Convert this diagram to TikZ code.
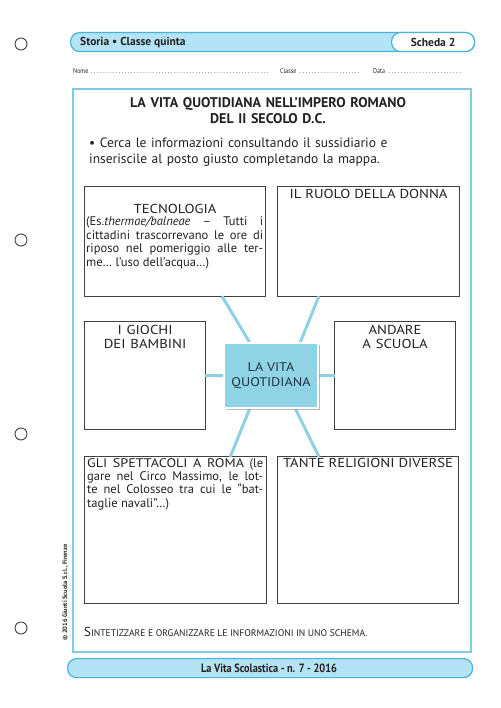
\documentclass[tikz,border=0pt]{standalone}
\usepackage{fontspec}
\setmainfont{PT Sans}
\newfontfamily\condfont[FakeStretch=0.86]{PT Sans}
\newcommand{\widecaps}[1]{\scalebox{1.13}[1]{#1}}
\usetikzlibrary{positioning,calc,shadows}
\definecolor{SkyFill}{RGB}{180,227,246}
\definecolor{SkyLine}{RGB}{72,178,216}
\definecolor{FrameBlue}{RGB}{128,202,226}
\definecolor{SpokeBlue}{RGB}{142,209,227}
\definecolor{CoreBlue}{RGB}{143,211,229}
\definecolor{InkGrey}{RGB}{64,64,64}
\definecolor{TextDark}{RGB}{34,34,34}
\definecolor{CoreText}{RGB}{28,52,66}
\tikzset{
  hole/.style={circle,draw=InkGrey,line width=.9pt,minimum size=12pt,inner sep=0pt},
  bar/.style={draw=SkyLine,line width=1.2pt,fill=SkyFill,rounded corners=9pt,anchor=north west,inner sep=0pt},
  sheet/.style={draw=FrameBlue,line width=1.6pt,anchor=north west,inner sep=0pt},
  mapbox/.style={draw=InkGrey,line width=1.1pt,fill=white,anchor=north west,inner sep=0pt},
  spoke/.style={draw=SpokeBlue,line width=3pt,shorten >=-3pt,shorten <=-1pt},
  core/.style={fill=CoreBlue,draw=white,line width=2pt,align=center,text=CoreText,
    font=\fontsize{12.5}{15}\selectfont,minimum width=94pt,minimum height=65pt,inner sep=0pt,
    drop shadow={shadow xshift=1.5pt,shadow yshift=-1.5pt,fill=black!45,opacity=.6}},
  headfont/.style={font=\bfseries\fontsize{11.5}{13}\selectfont,text=TextDark},
  nameline/.style={anchor=base west,inner sep=0pt,font=\condfont\fontsize{7}{8}\selectfont,text=TextDark},
  boxhead/.style={anchor=base,inner sep=0pt,align=center,text=TextDark,font=\fontsize{13}{14.6}\selectfont},
  boxbody/.style={anchor=base west,inner sep=0pt,align=justify,text=TextDark,font=\fontsize{12.5}{13.4}\selectfont}
}
\begin{document}
\begin{tikzpicture}[x=1pt,y=-1pt]
  \useasboundingbox (0,0) rectangle (500,708);
  % punch holes
  \foreach \y [count=\i] in {44,240,434,628}
    \node[hole] (hole\i) at (21,\y) {};
  % header
  \node[bar,minimum width=404pt,minimum height=19pt] (header) at (70,32) {};
  \node[headfont,anchor=base west,inner sep=0pt] (subject) at (80,46) {Storia • Classe quinta};
  \node[bar,headfont,fill=white,minimum width=83pt,minimum height=19pt,anchor=north east] (scheda) at (header.north east) {Scheda 2};
  \node[nameline] (nome) at (73,74) {Nome \makebox[179pt]{\dotfill}};
  \node[nameline] (classe) at (280,74) {Classe \makebox[63pt]{\dotfill}};
  \node[nameline] (data) at (373,74) {Data \makebox[76pt]{\dotfill}};
  % sheet
  \node[sheet,minimum width=398pt,minimum height=563pt] (page) at (72,88) {};
  \node[anchor=base,inner sep=0pt,text width=340pt,align=center,text=TextDark,font=\bfseries\fontsize{14}{16}\selectfont] (title) at (268,108) {LA VITA QUOTIDIANA NELL’IMPERO ROMANO\\DEL II SECOLO D.C.};
  \node[anchor=base west,inner sep=0pt,text width=370pt,align=left,text=TextDark,font=\fontsize{13.5}{16}\selectfont] (task) at (89,148) {• Cerca le informazioni consultando il sussidiario e\\inseriscile al posto giusto completando la mappa.};
  % map boxes
  \node[mapbox,minimum width=181pt,minimum height=110pt] (tecno) at (84,186) {};
  \node[mapbox,minimum width=182pt,minimum height=110pt] (donna) at (277,186) {};
  \node[mapbox,minimum width=121pt,minimum height=108pt] (giochi) at (84,321) {};
  \node[mapbox,minimum width=121pt,minimum height=108pt] (scuola) at (334,321) {};
  \node[mapbox,minimum width=182pt,minimum height=147pt] (spett) at (84,456) {};
  \node[mapbox,minimum width=181pt,minimum height=147pt] (relig) at (277,456) {};
  % spokes
  \coordinate (hub) at (271,375.5);
  \draw[spoke] ($(tecno.south)+(47.5,0)$) -- ($(hub)+(-21,-32.5)$);
  \draw[spoke] ($(donna.south)+(-50,0)$) -- ($(hub)+(29,-32.5)$);
  \draw[spoke] (giochi.east) -- (hub -| 224,0);
  \draw[spoke] (scuola.west) -- (hub -| 318,0);
  \draw[spoke] ($(spett.north)+(55,0)$) -- ($(hub)+(-21,32.5)$);
  \draw[spoke] ($(relig.north)+(-49.5,0)$) -- ($(hub)+(24,32.5)$);
  \node[core] (vita) at (hub) {\widecaps{LA VITA}\\\widecaps{QUOTIDIANA}};
  % box texts
  \node[boxhead] (tecnohead) at ($(tecno.north)+(0,28)$) {\widecaps{TECNOLOGIA}};
  \node[boxbody,text width=177pt] (tecnobody) at (86,226) {(Es.\textit{thermae/balneae} – Tutti i\linebreak cittadini trascorrevano le ore di\linebreak riposo nel pomeriggio alle ter-\linebreak me… l’uso dell’acqua…)};
  \node[boxhead] (donnahead) at ($(donna.north)+(0,13)$) {\widecaps{IL RUOLO DELLA DONNA}};
  \node[boxhead,text width=115pt] (giochihead) at ($(giochi.north)+(0,13)$) {\widecaps{I GIOCHI}\\\widecaps{DEI BAMBINI}};
  \node[boxhead,text width=115pt] (scuolahead) at ($(scuola.north)+(0,13)$) {\widecaps{ANDARE}\\\widecaps{A SCUOLA}};
  \node[boxbody,text width=176pt] (spettbody) at (87,467) {\widecaps{GLI} \widecaps{SPETTACOLI} \widecaps{A} \widecaps{ROMA} (le\linebreak gare nel Circo Massimo, le lot-\linebreak te nel Colosseo tra cui le “bat-\linebreak taglie navali”…)};
  \node[boxhead] (relighead) at ($(relig.north)+(0,11)$) {\widecaps{TANTE RELIGIONI DIVERSE}};
  % goal line
  \node[anchor=base west,inner sep=0pt,text=TextDark] (goal) at (84,636) {{\fontsize{13}{14}\selectfont S}{\fontsize{9.6}{14}\selectfont INTETIZZARE E ORGANIZZARE LE INFORMAZIONI IN UNO SCHEMA.}};
  \node[rotate=90,anchor=base west,inner sep=0pt,text=TextDark,font=\bfseries\fontsize{6.4}{7}\selectfont] (credit) at (67,641) {© 2016 Giunti Scuola S.r.l., Firenze};
  % footer
  \node[bar,minimum width=405pt,minimum height=19pt] (footer) at (67,658) {};
  \node[text=TextDark,font=\condfont\bfseries\fontsize{12}{13}\selectfont,anchor=base,inner sep=0pt] (issue) at (269,672) {La Vita Scolastica - n. 7 - 2016};
\end{tikzpicture}
\end{document}
